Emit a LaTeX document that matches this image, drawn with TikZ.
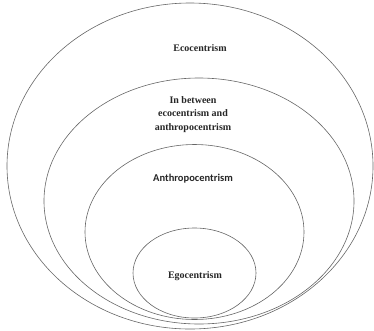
\documentclass[tikz,border=0pt]{standalone}
\usepackage{fontspec}
\setmainfont{Liberation Serif}
\newfontfamily\calib{Carlito}
\begin{document}
\begin{tikzpicture}[x=1pt,y=-1pt,
  ring/.style={draw=black!60,line width=0.6pt},
  lab/.style={font=\bfseries\fontsize{10}{13.5}\selectfont,align=center,text=black!85,inner sep=0pt}]
\useasboundingbox (0,0) rectangle (374,330);
\draw[ring] (190,166) ellipse [x radius=183,y radius=163];
\draw[ring] (199,201) ellipse [x radius=155,y radius=123];
\draw[ring] (194.5,232) ellipse [x radius=109.5,y radius=87.5];
\draw[ring] (194.5,273) ellipse [x radius=61.5,y radius=45];
\node[lab] (eco) at (200,48) {Ecocentrism};
\node[lab] (mid) at (193,114.5) {In between\\ecocentrism and\\anthropocentrism};
\node[lab,font=\calib\bfseries\fontsize{10.5}{13}\selectfont] (anth) at (193,179) {Anthropocentrism};
\node[lab] (ego) at (195,276.5) {Egocentrism};
\end{tikzpicture}
\end{document}
